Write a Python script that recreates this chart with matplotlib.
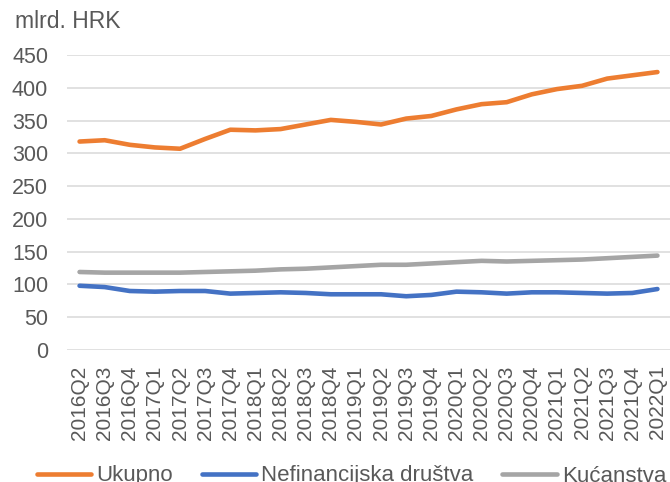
import matplotlib
matplotlib.use("Agg")
import matplotlib.pyplot as plt

plt.rcParams["font.family"] = ["Liberation Sans", "DejaVu Sans"]

# quarters on the x axis
quarters = [
    "2016Q2", "2016Q3", "2016Q4", "2017Q1", "2017Q2", "2017Q3", "2017Q4",
    "2018Q1", "2018Q2", "2018Q3", "2018Q4", "2019Q1", "2019Q2", "2019Q3",
    "2019Q4", "2020Q1", "2020Q2", "2020Q3", "2020Q4", "2021Q1", "2021Q2",
    "2021Q3", "2021Q4", "2022Q1",
]

# values in mlrd. HRK
ukupno = [318, 320, 313, 309, 307, 322, 336, 335, 337, 344, 351, 348,
          344, 353, 357, 367, 375, 378, 390, 398, 403, 414, 419, 424]
nefinancijska = [98, 96, 90, 89, 90, 90, 86, 87, 88, 87, 85, 85,
                 85, 82, 84, 89, 88, 86, 88, 88, 87, 86, 87, 93]
kucanstva = [119, 118, 118, 118, 118, 119, 120, 121, 123, 124, 126, 128,
             130, 130, 132, 134, 136, 135, 136, 137, 138, 140, 142, 144]

series_names = ["Ukupno", "Nefinancijska društva", "Kućanstva"]
y_ticks = [0, 50, 100, 150, 200, 250, 300, 350, 400, 450]

colours = ["#ED7D31", "#4472C4", "#A5A5A5"]
text_col = "#595959"

fig = plt.figure(figsize=(6.7, 4.82), dpi=100)
ax = fig.add_axes([67 / 670, 1 - 350 / 482, 603 / 670, 295 / 482])

x = list(range(len(quarters)))
for data, name, col in zip([ukupno, nefinancijska, kucanstva], series_names, colours):
    ax.plot(x, data, color=col, lw=3.3, solid_capstyle="round",
            solid_joinstyle="round", label=name, zorder=3)

ax.set_xlim(-0.5, len(quarters) - 0.5)
ax.set_ylim(0, 450)
ax.set_yticks(y_ticks)
ax.set_xticks(x)
ax.set_xticklabels(quarters, rotation=90, va="top", ha="center")

ax.grid(axis="y", color="#D9D9D9", lw=1.1, zorder=0)
ax.grid(axis="x", visible=False)
for s in ax.spines.values():
    s.set_visible(False)

ax.tick_params(axis="y", length=0, pad=13.5, labelsize=15.5, labelcolor=text_col)
ax.tick_params(axis="x", length=0, pad=11, labelsize=15, labelcolor=text_col)

fig.text(15 / 670, 1 - 28 / 482, "mlrd. HRK", fontsize=16.5, color=text_col,
         va="baseline", ha="left")

leg = fig.legend(loc="center left", bbox_to_anchor=(37 / 670, 1 - 476 / 482),
                 ncol=3, frameon=False, fontsize=16, handlelength=2.45,
                 handletextpad=0.22, columnspacing=1.3, borderpad=0,
                 borderaxespad=0)
for t in leg.get_texts():
    t.set_color(text_col)

fig.savefig("out.png", dpi=100)
